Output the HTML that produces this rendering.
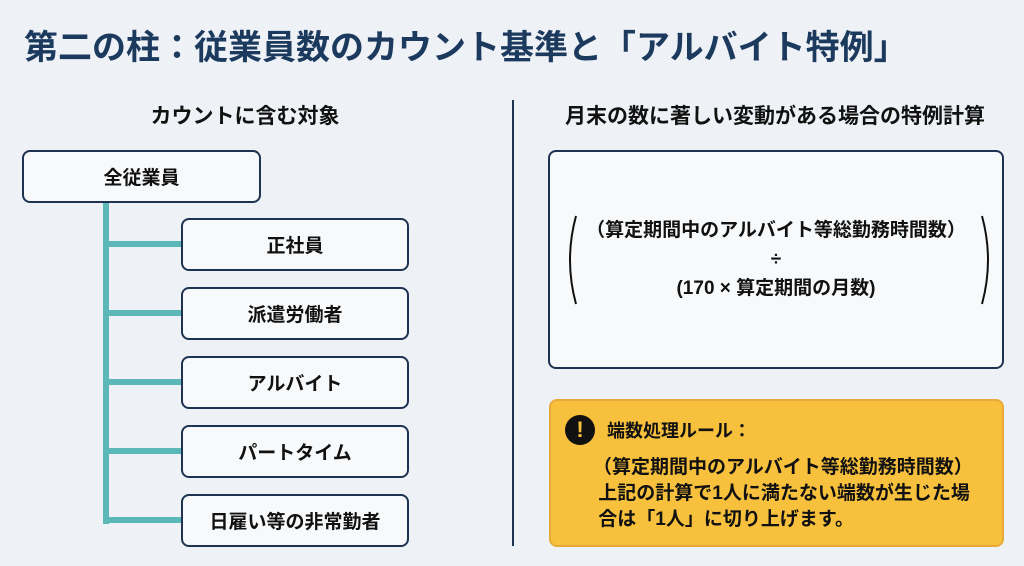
<!DOCTYPE html>
<html><head><meta charset="utf-8"><style>
body{margin:0;width:1024px;height:566px;background:#eef2f6;font-family:"Liberation Sans","Noto Sans CJK JP",sans-serif;position:relative;overflow:hidden;color:#111}
.a{position:absolute}
.t{left:24px;top:20px;font-size:34px;font-weight:bold;color:#1c3a5e;white-space:nowrap}
.h{font-size:21px;font-weight:bold;text-align:center;white-space:nowrap}
.b{position:absolute;border:2px solid #1e3252;border-radius:8px;background:#f7f9fb;box-sizing:border-box;display:flex;align-items:center;justify-content:center;font-size:19px;font-weight:bold}
.tl{position:absolute;background:#5cb8b8}
</style></head><body>
<div class="a t">第二の柱：従業員数のカウント基準と「アルバイト特例」</div>
<div class="a h" style="left:45px;width:400px;top:100px">カウントに含む対象</div>
<div class="a h" style="left:540px;width:470px;top:100px">月末の数に著しい変動がある場合の特例計算</div>
<div class="a" style="left:512px;top:100px;width:2px;height:446px;background:#1e3252"></div>
<div class="tl" style="left:103px;top:202px;width:6px;height:322px"></div>
<div class="tl" style="left:103px;top:241px;width:80px;height:6px"></div>
<div class="tl" style="left:103px;top:310px;width:80px;height:6px"></div>
<div class="tl" style="left:103px;top:379px;width:80px;height:6px"></div>
<div class="tl" style="left:103px;top:448px;width:80px;height:6px"></div>
<div class="tl" style="left:103px;top:517px;width:80px;height:6px"></div>
<div class="b" style="left:22px;top:150px;width:239px;height:53px">全従業員</div>
<div class="b" style="left:181px;top:218px;width:228px;height:53px">正社員</div>
<div class="b" style="left:181px;top:287px;width:228px;height:53px">派遣労働者</div>
<div class="b" style="left:181px;top:356px;width:228px;height:53px">アルバイト</div>
<div class="b" style="left:181px;top:425px;width:228px;height:53px">パートタイム</div>
<div class="b" style="left:181px;top:494px;width:228px;height:53px">日雇い等の非常勤者</div>
<div class="b" style="left:548px;top:150px;width:456px;height:219px;display:block">
<svg class="a" style="left:14px;top:62px" width="430" height="92"><path d="M12 2 Q0 46 12 90" stroke="#111" stroke-width="2" fill="none"/><path d="M418 2 Q430 46 418 90" stroke="#111" stroke-width="2" fill="none"/></svg>
<div class="a" style="left:0;width:452px;top:64px;text-align:center;font-size:19px;font-weight:bold;line-height:29px;white-space:nowrap">（算定期間中のアルバイト等総勤務時間数）<br>÷<br>(170 × 算定期間の月数)</div>
</div>
<div class="a" style="left:549px;top:399px;width:455px;height:148px;background:#f8c13d;border:2px solid #e9a83a;border-radius:8px;box-sizing:border-box">
<div class="a" style="left:14px;top:14px;width:30px;height:30px;border-radius:50%;background:#111;color:#f8c13d;font-weight:bold;font-size:22px;text-align:center;line-height:30px">!</div>
<div class="a" style="left:56px;top:16px;font-size:18px;font-weight:bold">端数処理ルール：</div>
<div class="a" style="left:42px;top:54px;font-size:19px;font-weight:bold;line-height:26px;white-space:nowrap">（算定期間中のアルバイト等総勤務時間数）<br>&nbsp;上記の計算で1人に満たない端数が生じた場<br>&nbsp;合は「1人」に切り上げます。</div>
</div>
</body></html>
